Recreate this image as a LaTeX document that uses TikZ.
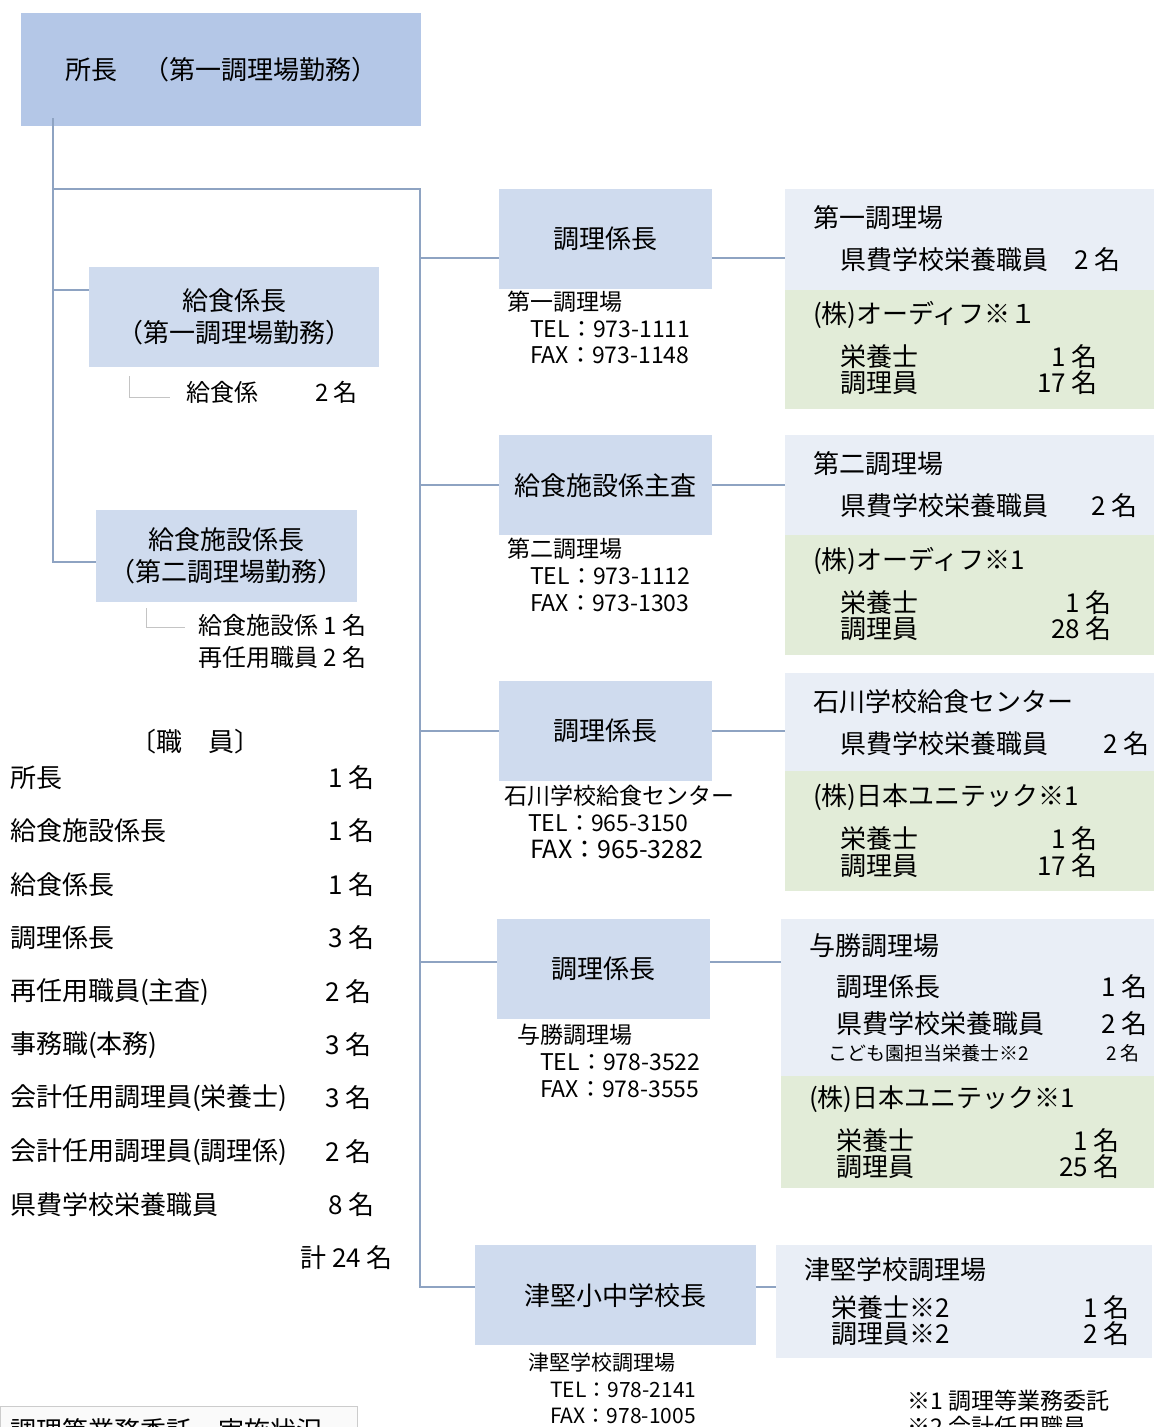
\documentclass[tikz,border=0pt]{standalone}
\usepackage{fontspec}
\setmainfont{Noto Sans CJK JP}
\usetikzlibrary{positioning}
\definecolor{chiefblue}{HTML}{B4C7E7}
\definecolor{roleblue}{HTML}{CFDBEE}
\definecolor{sitegray}{HTML}{E9EEF6}
\definecolor{firmgreen}{HTML}{E2ECD8}
\definecolor{linkblue}{HTML}{8EA3C2}
\definecolor{guidegray}{HTML}{C4C4C4}
\newcommand{\jfs}[1]{\fontsize{#1}{#1}\selectfont}

\begin{document}
\begin{tikzpicture}[
    x=1pt, y=-1pt,
    chiefbox/.style={rectangle, fill=chiefblue, anchor=north west, inner sep=0pt, align=center, font=\jfs{26}},
    rolebox/.style={rectangle, fill=roleblue, anchor=north west, inner sep=0pt, align=center, font=\fontsize{26}{32}\selectfont},
    sitebox/.style={rectangle, fill=sitegray, anchor=north west, inner sep=0pt},
    firmbox/.style={rectangle, fill=firmgreen, anchor=north west, inner sep=0pt},
    conn/.style={draw=linkblue, line width=1.6pt},
    guide/.style={draw=guidegray, line width=0.8pt},
    txt/.style={anchor=west, inner sep=0pt, font=\jfs{26}},
    num/.style={anchor=east, inner sep=0pt, font=\jfs{26}},
    tel/.style={anchor=west, inner sep=0pt, font=\jfs{23}},
    minor/.style={inner sep=0pt, font=\jfs{19}}
]
\useasboundingbox (0,0) rectangle (1154,1427);
\clip (0,0) rectangle (1154,1427);

% Boxes: left side
\node[chiefbox, minimum width=400pt, minimum height=113pt] (chief) at (21,13) {所長　（第一調理場勤務）};
\node[rolebox, minimum width=290pt, minimum height=100pt] (kyu) at (89,267) {給食係長\\（第一調理場勤務）};
\node[rolebox, minimum width=261pt, minimum height=92pt] (shisetsu) at (96,510) {給食施設係長\\（第二調理場勤務）};

% Boxes: middle column
\node[rolebox, minimum width=213pt, minimum height=100pt] (cook1) at (499,189) {調理係長};
\node[rolebox, minimum width=213pt, minimum height=100pt] (kyushisa) at (499,435) {給食施設係主査};
\node[rolebox, minimum width=213pt, minimum height=100pt] (cook2) at (499,681) {調理係長};
\node[rolebox, minimum width=213pt, minimum height=100pt] (cook3) at (497,919) {調理係長};
\node[rolebox, minimum width=281pt, minimum height=100pt] (tsuken) at (475,1245) {津堅小中学校長};

% Boxes: right column
\node[sitebox, minimum width=369pt, minimum height=101pt] (site1) at (785,189) {};
\node[firmbox, minimum width=369pt, minimum height=119pt] (firm1) at (785,290) {};
\node[sitebox, minimum width=369pt, minimum height=100pt] (site2) at (785,435) {};
\node[firmbox, minimum width=369pt, minimum height=120pt] (firm2) at (785,535) {};
\node[sitebox, minimum width=369pt, minimum height=98pt] (site3) at (785,673) {};
\node[firmbox, minimum width=369pt, minimum height=120pt] (firm3) at (785,771) {};
\node[sitebox, minimum width=373pt, minimum height=157pt] (site4) at (781,919) {};
\node[firmbox, minimum width=373pt, minimum height=112pt] (firm4) at (781,1076) {};
\node[sitebox, minimum width=376pt, minimum height=113pt] (site5) at (776,1245) {};

% Connectors
\coordinate (trunkL) at (53,118);
\coordinate (trunkR) at (420,189);
\coordinate (c1) at ([yshift=-19pt]cook1.west);
\coordinate (c4) at ([yshift=7pt]cook3.west);
\coordinate (c5) at ([yshift=8pt]tsuken.west);
\draw[conn] (trunkL) |- ([yshift=27pt]kyu.west);
\draw[conn] (trunkL) |- ([yshift=-6pt]shisetsu.west);
\draw[conn] (trunkL |- trunkR) -- (trunkR) |- (c5);
\draw[conn] (trunkR |- c1) -- (c1);
\draw[conn] (c1 -| cook1.east) -- (c1 -| site1.west);
\draw[conn] (trunkR |- kyushisa.west) -- (kyushisa.west);
\draw[conn] (kyushisa.east) -- (kyushisa.east -| site2.west);
\draw[conn] (trunkR |- cook2.west) -- (cook2.west);
\draw[conn] (cook2.east) -- (cook2.east -| site3.west);
\draw[conn] (trunkR |- c4) -- (c4);
\draw[conn] (c4 -| cook3.east) -- (c4 -| site4.west);
\draw[conn] (c5 -| tsuken.east) -- (c5 -| site5.west);

% Staff under the left boxes
\node[txt, font=\jfs{24}] (kyuin) at (186,392) {給食係};
\node[num, font=\jfs{24}] (kyuinnum) at (358,392) {2 名};
\node[txt, font=\jfs{24}] (sin1) at (198,625) {給食施設係 1 名};
\node[txt, font=\jfs{24}] (sin2) at (198,657) {再任用職員 2 名};
\draw[guide] ([xshift=40pt,yshift=-9pt]kyu.south west) |- ([xshift=-16pt,yshift=-5pt]kyuin.west);
\draw[guide] ([xshift=50pt,yshift=-6pt]shisetsu.south west) |- ([xshift=-13pt,yshift=-2pt]sin1.west);

% Contact texts
\node[tel] (t1a) at (507,302) {第一調理場};
\node[tel] (t1b) at (530,329) {TEL：973-1111};
\node[tel] (t1c) at (530,355) {FAX：973-1148};
\node[tel] (t2a) at (507,549) {第二調理場};
\node[tel] (t2b) at (530,576) {TEL：973-1112};
\node[tel] (t2c) at (530,603) {FAX：973-1303};
\node[tel] (t3a) at (504,796) {石川学校給食センター};
\node[tel] (t3b) at (528,823) {TEL：965-3150};
\node[tel, font=\jfs{25}] (t3c) at (530,849) {FAX：965-3282};
\node[tel] (t4a) at (517,1035) {与勝調理場};
\node[tel] (t4b) at (540,1062) {TEL：978-3522};
\node[tel] (t4c) at (540,1089) {FAX：978-3555};
\node[tel, font=\jfs{21}] (t5a) at (528,1363) {津堅学校調理場};
\node[tel, font=\jfs{21}] (t5b) at (550,1390) {TEL：978-2141};
\node[tel, font=\jfs{21}] (t5c) at (550,1416) {FAX：978-1005};

% Site 1
\node[txt] (s1a) at (813,218) {第一調理場};
\node[txt] (s1b) at (840,260) {県費学校栄養職員　2 名};
\node[txt] (f1a) at (813,315) {(株)オーディフ※１};
\node[txt] (f1b) at (840,357) {栄養士};
\node[num] (f1bn) at (1098,357) {1 名};
\node[txt] (f1c) at (840,383) {調理員};
\node[num] (f1cn) at (1098,383) {17 名};

% Site 2
\node[txt] (s2a) at (813,464) {第二調理場};
\node[txt] (s2b) at (840,506) {県費学校栄養職員};
\node[num] (s2bn) at (1138,506) {2 名};
\node[txt] (f2a) at (813,561) {(株)オーディフ※1};
\node[txt] (f2b) at (840,603) {栄養士};
\node[num] (f2bn) at (1112,603) {1 名};
\node[txt] (f2c) at (840,629) {調理員};
\node[num] (f2cn) at (1112,629) {28 名};

% Site 3
\node[txt] (s3a) at (813,702) {石川学校給食センター};
\node[txt] (s3b) at (840,744) {県費学校栄養職員};
\node[num] (s3bn) at (1150,744) {2 名};
\node[txt] (f3a) at (813,797) {(株)日本ユニテック※1};
\node[txt] (f3b) at (840,839) {栄養士};
\node[num] (f3bn) at (1098,839) {1 名};
\node[txt] (f3c) at (840,866) {調理員};
\node[num] (f3cn) at (1098,866) {17 名};

% Site 4
\node[txt] (s4a) at (809,946) {与勝調理場};
\node[txt] (s4b) at (836,987) {調理係長};
\node[num] (s4bn) at (1148,987) {1 名};
\node[txt] (s4c) at (836,1024) {県費学校栄養職員};
\node[num] (s4cn) at (1148,1024) {2 名};
\node[minor, anchor=west] (s4d) at (828,1053) {こども園担当栄養士※2};
\node[minor, anchor=east] (s4dn) at (1140,1053) {2 名};
\node[txt] (f4a) at (809,1099) {(株)日本ユニテック※1};
\node[txt] (f4b) at (836,1141) {栄養士};
\node[num] (f4bn) at (1120,1141) {1 名};
\node[txt] (f4c) at (836,1167) {調理員};
\node[num] (f4cn) at (1120,1167) {25 名};

% Site 5
\node[txt] (s5a) at (804,1270) {津堅学校調理場};
\node[txt] (s5b) at (831,1308) {栄養士※2};
\node[num] (s5bn) at (1130,1308) {1 名};
\node[txt] (s5c) at (831,1334) {調理員※2};
\node[num] (s5cn) at (1130,1334) {2 名};

% Staff list
\node[txt] (listhead) at (130,742) {〔職　員〕};
\node[txt] (r1) at (10,778) {所長};
\node[num] (r1n) at (375,778) {1 名};
\node[txt] (r2) at (10,831) {給食施設係長};
\node[num] (r2n) at (375,831) {1 名};
\node[txt] (r3) at (10,885) {給食係長};
\node[num] (r3n) at (375,885) {1 名};
\node[txt] (r4) at (10,938) {調理係長};
\node[num] (r4n) at (375,938) {3 名};
\node[txt] (r5) at (10,992) {再任用職員(主査)};
\node[num] (r5n) at (372,992) {2 名};
\node[txt] (r6) at (10,1045) {事務職(本務)};
\node[num] (r6n) at (372,1045) {3 名};
\node[txt] (r7) at (10,1098) {会計任用調理員(栄養士)};
\node[num] (r7n) at (372,1098) {3 名};
\node[txt] (r8) at (10,1152) {会計任用調理員(調理係)};
\node[num] (r8n) at (372,1152) {2 名};
\node[txt] (r9) at (10,1205) {県費学校栄養職員};
\node[num] (r9n) at (375,1205) {8 名};
\node[num] (total) at (393,1258) {計 24 名};

% Notes
\node[tel] (note1) at (907,1401) {※1 調理等業務委託};
\node[tel] (note2) at (907,1427) {※2 会計任用職員};
\node[rectangle, draw=gray!40, fill=gray!4, anchor=north west, minimum width=357pt, minimum height=40pt, inner sep=0pt] (report) at (0,1406) {};
\node[txt] (reporttxt) at (10,1431) {調理等業務委託　実施状況};

\end{tikzpicture}
\end{document}
